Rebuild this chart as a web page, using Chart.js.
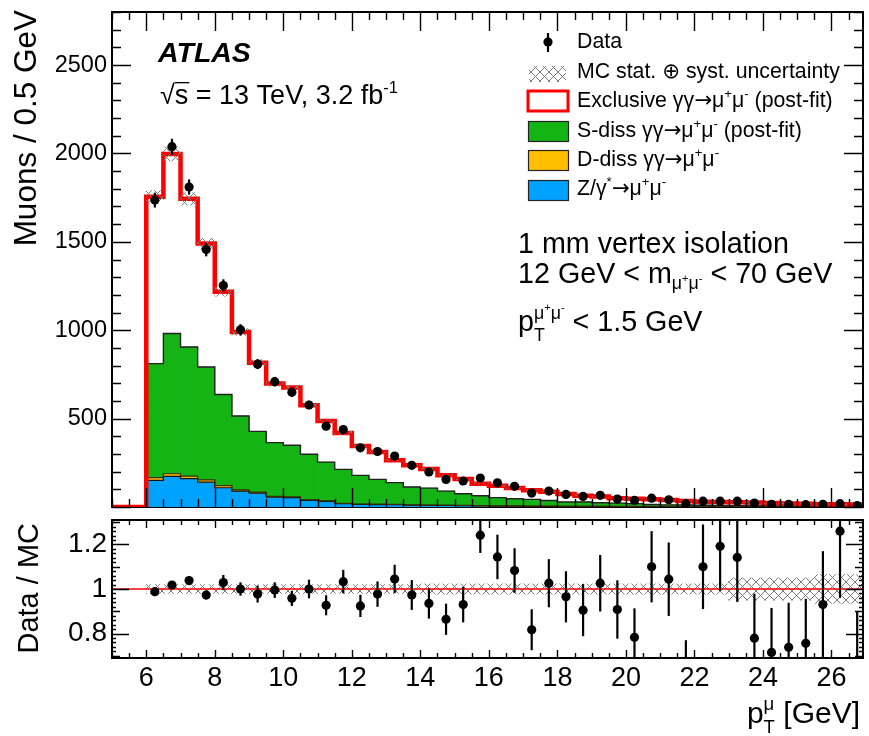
<!DOCTYPE html>
<html>
<head>
<meta charset="utf-8">
<script src="https://cdn.jsdelivr.net/npm/chart.js@4.4.0/dist/chart.umd.min.js"></script>
<style>
  html, body { margin: 0; padding: 0; background: #fff; }
  #wrap { position: relative; width: 869px; height: 736px; }
  #mainCanvas { position: absolute; left: 0; top: 0; }
  #ratioCanvas { position: absolute; left: 0; top: 510px; }
</style>
</head>
<body>
<div id="wrap">
  <canvas id="mainCanvas" width="869" height="515"></canvas>
  <canvas id="ratioCanvas" width="869" height="226"></canvas>
</div>
<script>
// bin centres (0.5 GeV bins, 6 - 27 GeV)
const ptCentres = [6.25, 6.75, 7.25, 7.75, 8.25, 8.75, 9.25, 9.75, 10.25, 10.75, 11.25, 11.75, 12.25, 12.75,
  13.25, 13.75, 14.25, 14.75, 15.25, 15.75, 16.25, 16.75, 17.25, 17.75, 18.25, 18.75, 19.25, 19.75, 20.25,
  20.75, 21.25, 21.75, 22.25, 22.75, 23.25, 23.75, 24.25, 24.75, 25.25, 25.75, 26.25, 26.75];

// MC stack (muons / 0.5 GeV)
const zGamma = [151, 173, 160, 141, 109, 90, 79, 56, 53, 37, 32, 19, 15, 14, 13, 11, 10, 9, 8, 6, 5, 5, 4, 4,
  3, 3, 3, 2, 2, 2, 2, 2, 1, 1, 1, 1, 1, 1, 1, 1, 1, 1];
const dDiss = [15, 15, 15, 13, 12, 7, 5, 4, 4, 3, 3, 2, 2, 2, 2, 1, 1, 1, 1, 1, 1, 1, 1, 1, 1, 1, 1, 1, 1, 1,
  1, 1, 1, 1, 1, 1, 0.5, 0.5, 0.5, 0.5, 0.5, 0.5];
const sDiss = [645, 793, 730, 638, 515, 418, 344, 304, 292, 258, 219, 192, 162, 140, 123, 101, 96, 80, 66, 57,
  47, 41, 38, 32, 24, 24, 20, 19, 16, 11, 9, 8, 8, 7, 6, 5, 4.5, 4.5, 3.5, 3.5, 2.5, 2.5];
const exclusive = [944, 1016, 838, 699, 581, 475, 388, 334, 327, 277, 233, 206, 166, 155, 126, 123, 108, 90,
  83, 68, 67, 60, 52, 49, 45, 36, 36, 28, 27, 30, 27, 23, 20, 19, 19, 19, 16, 14, 13, 11, 11, 10];
// relative MC stat+syst uncertainty
const mcUnc = [0.02, 0.02, 0.02, 0.02, 0.02, 0.02, 0.02, 0.02, 0.02, 0.02, 0.02, 0.02, 0.02, 0.02, 0.02, 0.02,
  0.023, 0.023, 0.023, 0.023, 0.023, 0.023, 0.023, 0.023, 0.023, 0.023, 0.023, 0.023, 0.023, 0.023, 0.023,
  0.023, 0.023, 0.023, 0.05, 0.05, 0.05, 0.05, 0.05, 0.065, 0.065, 0.065];

// data
const dataCounts = [1736, 2038, 1810, 1456, 1253, 1002, 808, 709, 649, 577, 457, 438, 335, 314, 288, 236, 198,
  156, 147, 164, 137, 117, 79, 90, 71, 60, 66, 45, 37, 50, 41, 19, 33, 33, 33, 22, 15, 15, 13, 15, 19, 8];
const dataErr = [42, 45, 43, 38, 35, 32, 28, 27, 26, 24, 22, 21, 19, 18, 17, 16, 14, 13, 12, 13, 12, 11, 9, 10,
  9, 8, 8, 7, 6, 7, 6, 5, 6, 6, 6, 5, 4, 4, 4, 4, 5, 3];

// Data / MC
const ratioVals = [0.988, 1.018, 1.038, 0.973, 1.029, 1.0, 0.977, 0.995, 0.958, 1.0, 0.927, 1.033, 0.924, 0.977,
  1.045, 0.973, 0.935, 0.864, 0.930, 1.242, 1.144, 1.083, 0.817, 1.026, 0.965, 0.905, 1.026, 0.908, 0.783, 1.10,
  1.044, 0.58, 1.10, 1.192, 1.142, 0.779, 0.715, 0.738, 0.756, 0.930, 1.26, 0.58];
const ratioErr = [0.015, 0.015, 0.02, 0.02, 0.034, 0.03, 0.038, 0.035, 0.034, 0.042, 0.045, 0.053, 0.05, 0.057,
  0.064, 0.067, 0.068, 0.07, 0.08, 0.08, 0.1, 0.1, 0.092, 0.108, 0.115, 0.117, 0.127, 0.131, 0.13, 0.16, 0.165,
  0.19, 0.19, 0.2, 0.2, 0.2, 0.2, 0.2, 0.2, 0.24, 0.3, 0.32];

// axes
const xMin = 5, xMax = 26.92;
const yMax = 2800;
const ratioMin = 0.69, ratioMax = 1.31;
const xTickLabels = [6, 8, 10, 12, 14, 16, 18, 20, 22, 24, 26];
const yTickLabels = [500, 1000, 1500, 2000, 2500];
const ratioTickLabels = [0.8, 1, 1.2];

const FONT = '"Liberation Sans", Arial, Helvetica, sans-serif';
const SYMFONT = '"DejaVu Sans", sans-serif';
Chart.defaults.font.family = FONT;
Chart.defaults.color = '#000';
Chart.defaults.animation = false;

const GREEN = '#14b414', ORANGE = '#ffbf00', BLUE = '#00a2ff', RED = '#ff0000';

const halfBin = (ptCentres[1] - ptCentres[0]) / 2;
const blueTop = zGamma.slice();
const orangeTop = blueTop.map((v, i) => v + dDiss[i]);
const greenTop = orangeTop.map((v, i) => v + sDiss[i]);
const total = greenTop.map((v, i) => v + exclusive[i]);

function stepPoints(vals) {
  const pts = ptCentres.map((c, i) => ({ x: c - halfBin, y: vals[i] }));
  pts.push({ x: ptCentres[ptCentres.length - 1] + halfBin, y: vals[vals.length - 1] });
  return pts;
}
function floatBars(lo, hi) {
  return ptCentres.map((c, i) => ({ x: c, y: [lo[i], hi[i]] }));
}

function makeHatch() {
  const c = document.createElement('canvas');
  c.width = 9; c.height = 9;
  const g = c.getContext('2d');
  g.strokeStyle = '#7c7c7c';
  g.lineWidth = 1;
  g.beginPath();
  g.moveTo(0, 0); g.lineTo(9, 9);
  g.moveTo(9, 0); g.lineTo(0, 9);
  g.stroke();
  return g.createPattern(c, 'repeat');
}
const hatch = makeHatch();

// text with ^{..} and _{..}
function parseRich(s) {
  const out = [];
  let i = 0, buf = '';
  while (i < s.length) {
    const ch = s[i];
    if ((ch === '^' || ch === '_') && s[i + 1] === '{') {
      if (buf) { out.push({ t: 'n', s: buf }); buf = ''; }
      let d = 0, j = i + 1;
      for (; j < s.length; j++) {
        if (s[j] === '{') d++;
        else if (s[j] === '}' && --d === 0) break;
      }
      out.push({ t: ch, s: s.slice(i + 2, j) });
      i = j + 1;
    } else { buf += ch; i++; }
  }
  if (buf) out.push({ t: 'n', s: buf });
  return out;
}
function richRun(ctx, s, x, y, size, style, draw) {
  const toks = parseRich(s);
  let cx = x;
  for (let k = 0; k < toks.length; k++) {
    const tk = toks[k];
    if (tk.t === 'n') {
      // symbols such as arrows come from DejaVu, the rest from Liberation
      tk.s.split(/([→⊕])/).forEach(part => {
        if (!part) return;
        const sym = part === '→' || part === '⊕';
        ctx.font = `${style} ${size}px ${sym ? SYMFONT : FONT}`;
        if (draw) ctx.fillText(part, cx, y);
        cx += ctx.measureText(part).width;
      });
    } else {
      const nxt = toks[k + 1];
      const paired = nxt && nxt.t !== 'n' && nxt.t !== tk.t;
      const ss = size * 0.62;
      const off = t => (t === '^' ? -size * 0.42 : size * (paired ? 0.34 : 0.22));
      let w = richRun(ctx, tk.s, cx, y + off(tk.t), ss, style, draw) - cx;
      if (paired) {
        const w2 = richRun(ctx, nxt.s, cx, y + off(nxt.t), ss, style, draw) - cx;
        w = Math.max(w, w2);
        k++;
      }
      cx += w;
    }
  }
  return cx;
}
function rich(ctx, s, x, y, size, style = '', align = 'left') {
  let x0 = x;
  if (align === 'right') x0 = x - (richRun(ctx, s, 0, 0, size, style, false));
  return richRun(ctx, s, x0, y, size, style, true);
}

// frame and inward ROOT-like ticks; the bottom edge goes under the histograms
function frameTicks(id, t) {
  return {
    id,
    beforeDatasetsDraw(chart) {
      const { ctx, chartArea: a } = chart;
      ctx.save();
      ctx.strokeStyle = '#000';
      ctx.lineWidth = 2;
      ctx.strokeRect(a.left, a.top, a.right - a.left, a.bottom - a.top);
      ctx.restore();
    },
    afterDraw(chart) {
      const { ctx, chartArea: a, scales: { x, y } } = chart;
      ctx.save();
      ctx.strokeStyle = '#000';
      ctx.lineWidth = 1.4;
      ctx.beginPath();
      for (let k = Math.ceil(x.min / t.xStep); k * t.xStep <= x.max; k++) {
        const px = Math.round(x.getPixelForValue(k * t.xStep)) + 0.5;
        const len = k % t.xMajorEvery === 0 ? t.xMajor : t.xMinor;
        ctx.moveTo(px, a.bottom); ctx.lineTo(px, a.bottom - len);
        ctx.moveTo(px, a.top); ctx.lineTo(px, a.top + len);
      }
      for (let k = Math.ceil(y.min / t.yStep - 1e-9); k * t.yStep <= y.max + 1e-9; k++) {
        const py = Math.round(y.getPixelForValue(k * t.yStep)) + 0.5;
        let len = t.yMinor;
        if (k % t.yMajorEvery === 0) len = t.yMajor;
        else if (t.yMidEvery && k % t.yMidEvery === 0) len = t.yMid;
        ctx.moveTo(a.left, py); ctx.lineTo(a.left + len, py);
        ctx.moveTo(a.right, py); ctx.lineTo(a.right - len, py);
      }
      ctx.stroke();
      ctx.lineWidth = 2;
      ctx.beginPath();
      ctx.moveTo(a.left, a.bottom + 1);
      ctx.lineTo(a.left, a.top);
      ctx.lineTo(a.right, a.top);
      ctx.lineTo(a.right, a.bottom + 1);
      ctx.stroke();
      ctx.restore();
    }
  };
}

const errorBars = {
  id: 'errorBars',
  afterDatasetsDraw(chart, args, opts) {
    const { ctx, chartArea: a, scales: { x, y } } = chart;
    ctx.save();
    ctx.beginPath();
    ctx.rect(a.left, a.top, a.right - a.left, a.bottom - a.top);
    ctx.clip();
    ctx.strokeStyle = '#000';
    ctx.lineWidth = 2.2;
    opts.values.forEach((v, i) => {
      const px = x.getPixelForValue(ptCentres[i]);
      ctx.beginPath();
      ctx.moveTo(px, y.getPixelForValue(v - opts.err[i]));
      ctx.lineTo(px, y.getPixelForValue(v + opts.err[i]));
      ctx.stroke();
    });
    ctx.restore();
  }
};

const mainText = {
  id: 'mainText',
  afterDraw(chart) {
    const ctx = chart.ctx;
    ctx.save();
    ctx.fillStyle = '#000';
    ctx.textAlign = 'left';
    ctx.textBaseline = 'alphabetic';

    // y title
    ctx.save();
    ctx.translate(36, 10);
    ctx.rotate(-Math.PI / 2);
    rich(ctx, 'Muons / 0.5 GeV', 0, 0, 31.5, '', 'right');
    ctx.restore();

    rich(ctx, 'ATLAS', 158, 62, 28.5, 'italic bold');
    ctx.font = `27px ${FONT}`;
    ctx.fillText('√', 160, 104);
    const sx = 160 + ctx.measureText('√').width;
    const sw = ctx.measureText('s').width;
    ctx.fillRect(sx, 104 - 22, sw + 1, 1.3);
    rich(ctx, 's = 13 TeV, 3.2 fb^{-1}', sx, 104, 27);

    rich(ctx, '1 mm vertex isolation', 518, 253, 28.7);
    rich(ctx, '12 GeV < m_{μ^{+}μ^{-}} < 70 GeV', 518, 283, 28.7);
    rich(ctx, 'p_{T}^{μ^{+}μ^{-}} < 1.5 GeV', 518, 331, 28.7);

    // legend
    const tx = 577, fs = 21.3;
    ctx.strokeStyle = '#000';
    ctx.lineWidth = 2.2;
    ctx.beginPath(); ctx.moveTo(548, 33); ctx.lineTo(548, 52); ctx.stroke();
    ctx.beginPath(); ctx.arc(548, 42, 4.6, 0, Math.PI * 2); ctx.fill();
    rich(ctx, 'Data', tx, 48, fs);

    ctx.fillStyle = hatch;
    ctx.fillRect(529, 66, 37, 16);
    ctx.fillStyle = '#000';
    rich(ctx, 'MC stat. ⊕ syst. uncertainty', tx, 78, fs);

    ctx.fillStyle = '#fff';
    ctx.fillRect(528, 91, 40, 20);
    ctx.strokeStyle = RED; ctx.lineWidth = 3;
    ctx.strokeRect(528, 91, 40, 20);
    ctx.fillStyle = '#000';
    rich(ctx, 'Exclusive γγ→μ^{+}μ^{-} (post-fit)', tx, 107, fs);

    const boxes = [
      [GREEN, 121, 'S-diss γγ→μ^{+}μ^{-} (post-fit)', 137],
      [ORANGE, 150, 'D-diss γγ→μ^{+}μ^{-}', 166],
      [BLUE, 180, 'Z/γ^{*}→μ^{+}μ^{-}', 195]
    ];
    boxes.forEach(([col, by, label, base]) => {
      ctx.fillStyle = col;
      ctx.fillRect(528, by, 40, 20);
      ctx.strokeStyle = '#222'; ctx.lineWidth = 1.2;
      ctx.strokeRect(528.5, by + 0.5, 40, 20);
      ctx.fillStyle = '#000';
      rich(ctx, label, tx, base, fs);
    });
    ctx.restore();
  }
};

const ratioText = {
  id: 'ratioText',
  afterDraw(chart) {
    const ctx = chart.ctx;
    ctx.save();
    ctx.fillStyle = '#000';
    ctx.save();
    ctx.translate(38, 13);
    ctx.rotate(-Math.PI / 2);
    rich(ctx, 'Data / MC', 0, 0, 29, '', 'right');
    ctx.restore();
    rich(ctx, 'p_{T}^{μ} [GeV]', 860, 213, 30, '', 'right');
    ctx.restore();
  }
};

const barCommon = { type: 'bar', grouped: false, barPercentage: 1, categoryPercentage: 1, borderWidth: 0 };
const stepCommon = { type: 'line', stepped: 'before', pointRadius: 0, fill: false, borderJoinStyle: 'miter' };

function fixY(width) {
  return s => { s.width = width; s.paddingTop = 0; s.paddingBottom = 0; };
}
function fixX(height) {
  return s => { s.height = height; s.paddingLeft = 0; s.paddingRight = 0; };
}

new Chart(document.getElementById('mainCanvas'), {
  type: 'bar',
  data: {
    datasets: [
      { type: 'line', label: 'Data', order: 0, showLine: false, pointRadius: 4.6, pointBorderWidth: 0,
        pointBackgroundColor: '#000',
        data: ptCentres.map((c, i) => ({ x: c, y: dataCounts[i] })) },
      { ...barCommon, label: 'MC stat. ⊕ syst. uncertainty', order: 1, backgroundColor: hatch,
        data: floatBars(total.map((v, i) => v * (1 - mcUnc[i])), total.map((v, i) => v * (1 + mcUnc[i]))) },
      { ...stepCommon, label: 'Exclusive', order: 2, borderColor: RED, borderWidth: 4.5,
        data: [{ x: xMin, y: 0 }, ...stepPoints(total)] },
      { ...stepCommon, label: 'S-diss outline', order: 3, borderColor: '#222', borderWidth: 1.4,
        data: stepPoints(greenTop) },
      { ...stepCommon, label: 'D-diss outline', order: 4, borderColor: '#3a2a00', borderWidth: 1.2,
        data: stepPoints(orangeTop) },
      { ...stepCommon, label: 'Z outline', order: 5, borderColor: '#111', borderWidth: 1.2,
        data: stepPoints(blueTop) },
      { ...barCommon, label: 'S-diss', order: 6, backgroundColor: GREEN, data: floatBars(orangeTop, greenTop) },
      { ...barCommon, label: 'D-diss', order: 7, backgroundColor: ORANGE, data: floatBars(blueTop, orangeTop) },
      { ...barCommon, label: 'Z', order: 8, backgroundColor: BLUE, data: floatBars(blueTop.map(() => 0), blueTop) }
    ]
  },
  options: {
    responsive: false,
    animation: false,
    layout: { padding: { left: 0, right: 6, top: 12, bottom: 0 } },
    plugins: {
      legend: { display: false },
      tooltip: { enabled: false },
      errorBars: { values: dataCounts, err: dataErr }
    },
    scales: {
      x: {
        type: 'linear', min: xMin, max: xMax, offset: false,
        grid: { display: false, drawTicks: false }, border: { display: false },
        ticks: { display: false },
        afterBuildTicks: s => { s.ticks = xTickLabels.map(v => ({ value: v })); },
        afterFit: fixX(8)
      },
      y: {
        type: 'linear', min: 0, max: yMax,
        grid: { display: false, drawTicks: false }, border: { display: false },
        ticks: { font: { size: 23.5 }, padding: 5, color: '#000', callback: v => String(v) },
        afterBuildTicks: s => { s.ticks = yTickLabels.map(v => ({ value: v })); },
        afterFit: fixY(112)
      }
    }
  },
  plugins: [errorBars, frameTicks('frameMain', {
    xStep: 0.5, xMajorEvery: 4, xMajor: 19, xMinor: 8,
    yStep: 100, yMajorEvery: 5, yMajor: 19, yMinor: 9
  }), mainText]
});

new Chart(document.getElementById('ratioCanvas'), {
  type: 'bar',
  data: {
    datasets: [
      { type: 'line', label: 'Data / MC', order: 0, showLine: false, pointRadius: 4.6, pointBorderWidth: 0,
        pointBackgroundColor: '#000',
        data: ptCentres.map((c, i) => ({ x: c, y: ratioVals[i] })) },
      { type: 'line', label: 'unity', order: 1, borderColor: RED, borderWidth: 1.5, pointRadius: 0,
        data: [{ x: xMin, y: 1 }, { x: xMax, y: 1 }] },
      { ...barCommon, label: 'MC unc', order: 2, backgroundColor: hatch,
        data: floatBars(mcUnc.map(u => 1 - u), mcUnc.map(u => 1 + u)) }
    ]
  },
  options: {
    responsive: false,
    animation: false,
    layout: { padding: { left: 0, right: 6, top: 10, bottom: 0 } },
    plugins: {
      legend: { display: false },
      tooltip: { enabled: false },
      errorBars: { values: ratioVals, err: ratioErr }
    },
    scales: {
      x: {
        type: 'linear', min: xMin, max: xMax, offset: false,
        grid: { display: false, drawTicks: false }, border: { display: false },
        ticks: { font: { size: 27 }, padding: 4, maxRotation: 0, autoSkip: false, color: '#000',
          callback: v => String(v) },
        afterBuildTicks: s => { s.ticks = xTickLabels.map(v => ({ value: v })); },
        afterFit: fixX(78)
      },
      y: {
        type: 'linear', min: ratioMin, max: ratioMax,
        grid: { display: false, drawTicks: false }, border: { display: false },
        ticks: { font: { size: 28 }, padding: 5, color: '#000', callback: v => String(v) },
        afterBuildTicks: s => { s.ticks = ratioTickLabels.map(v => ({ value: v })); },
        afterFit: fixY(112)
      }
    }
  },
  plugins: [errorBars, frameTicks('frameRatio', {
    xStep: 0.5, xMajorEvery: 4, xMajor: 8, xMinor: 5,
    yStep: 0.02, yMajorEvery: 10, yMidEvery: 5, yMajor: 17, yMid: 8, yMinor: 4
  }), ratioText]
});
</script>
</body>
</html>
